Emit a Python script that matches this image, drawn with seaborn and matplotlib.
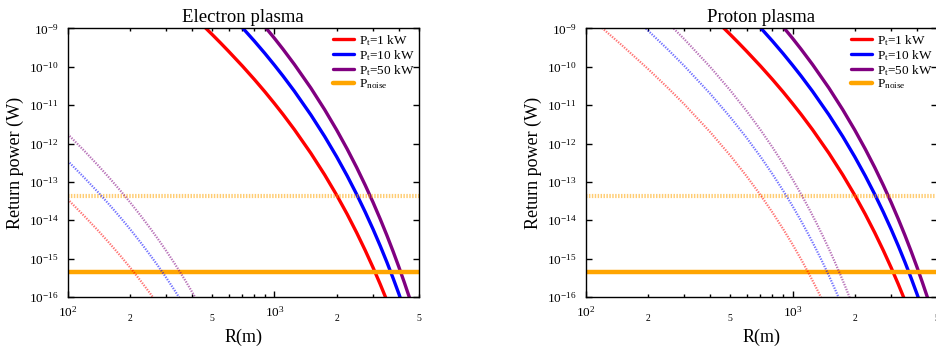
import matplotlib
matplotlib.use("Agg")
import matplotlib.pyplot as plt
import seaborn as sns
from matplotlib.ticker import FixedLocator, FixedFormatter, NullLocator, FuncFormatter

# ---------------- data ----------------
# thick solid curves (identical in both panels)
R_solid_1kW = [400, 450, 500, 550, 600, 700, 800, 900, 1000, 1100, 1250, 1500, 1750, 2000, 2250,
               2500, 2750, 3000, 3250, 3500]
P_solid_1kW = [2.24e-9, 1.22e-9, 6.97e-10, 4.15e-10, 2.55e-10, 1.05e-10, 4.69e-11, 2.23e-11, 1.11e-11,
               5.78e-12, 2.30e-12, 5.61e-13, 1.53e-13, 4.53e-14, 1.43e-14, 4.73e-15, 1.63e-15,
               5.83e-16, 2.14e-16, 8.04e-17]
R_solid_10kW = [600, 700, 800, 900, 1000, 1100, 1250, 1500, 1750, 2000, 2250, 2500, 2750, 3000,
                3250, 3500, 3750, 4000, 4250]
P_solid_10kW = [2.55e-9, 1.05e-9, 4.69e-10, 2.23e-10, 1.11e-10, 5.78e-11, 2.30e-11, 5.61e-12,
                1.53e-12, 4.53e-13, 1.43e-13, 4.73e-14, 1.63e-14, 5.83e-15, 2.14e-15, 8.04e-16,
                3.08e-16, 1.20e-16, 4.76e-17]
R_solid_50kW = [800, 900, 1000, 1100, 1250, 1500, 1750, 2000, 2250, 2500, 2750, 3000, 3250, 3500,
                3750, 4000, 4250, 4500]
P_solid_50kW = [2.34e-9, 1.11e-9, 5.56e-10, 2.89e-10, 1.15e-10, 2.81e-11, 7.64e-12, 2.26e-12,
                7.14e-13, 2.37e-13, 8.17e-14, 2.92e-14, 1.07e-14, 4.02e-15, 1.54e-15, 6.01e-16,
                2.38e-16, 9.57e-17]

# thin dotted curves, electron plasma
R_e_1kW = [100, 120, 140, 160, 180, 200, 225, 250, 275]
P_e_1kW = [3.55e-14, 1.31e-14, 5.46e-15, 2.46e-15, 1.18e-15, 5.96e-16, 2.67e-16, 1.26e-16, 6.22e-17]
R_e_10kW = [100, 120, 140, 160, 180, 200, 225, 250, 275, 300, 325, 350]
P_e_10kW = [3.55e-13, 1.31e-13, 5.46e-14, 2.46e-14, 1.18e-14, 5.96e-15, 2.67e-15, 1.26e-15,
            6.22e-16, 3.16e-16, 1.65e-16, 8.83e-17]
R_e_50kW = [100, 120, 140, 160, 180, 200, 225, 250, 275, 300, 325, 350, 375, 400, 425]
P_e_50kW = [1.77e-12, 6.58e-13, 2.73e-13, 1.23e-13, 5.90e-14, 2.98e-14, 1.34e-14, 6.32e-15,
            3.11e-15, 1.58e-15, 8.26e-16, 4.42e-16, 2.42e-16, 1.34e-16, 7.59e-17]

# thin dotted curves, proton plasma
R_p_1kW = [100, 120, 150, 200, 250, 300, 400, 500, 600, 700, 800, 900, 1000, 1100, 1200, 1300, 1400]
P_p_1kW = [2.37e-9, 1.03e-9, 3.61e-10, 8.85e-11, 2.81e-11, 1.05e-11, 1.99e-12, 4.88e-13, 1.41e-13,
           4.56e-14, 1.60e-14, 5.98e-15, 2.36e-15, 9.64e-16, 4.08e-16, 1.77e-16, 7.91e-17]
R_p_10kW = [150, 200, 250, 300, 400, 500, 600, 700, 800, 900, 1000, 1100, 1200, 1300, 1400, 1500, 1600, 1700]
P_p_10kW = [3.61e-9, 8.85e-10, 2.81e-10, 1.05e-10, 1.99e-11, 4.88e-12, 1.41e-12, 4.56e-13, 1.60e-13,
            5.98e-14, 2.36e-14, 9.64e-15, 4.08e-15, 1.77e-15, 7.91e-16, 3.60e-16, 1.66e-16, 7.82e-17]
R_p_50kW = [250, 300, 400, 500, 600, 700, 800, 900, 1000, 1100, 1200, 1300, 1400, 1500, 1600, 1700, 1800, 1900]
P_p_50kW = [1.40e-9, 5.24e-10, 9.93e-11, 2.44e-11, 7.05e-12, 2.28e-12, 8.00e-13, 2.99e-13, 1.18e-13,
            4.82e-14, 2.04e-14, 8.87e-15, 3.95e-15, 1.80e-15, 8.32e-16, 3.91e-16, 1.87e-16, 8.99e-17]

P_noise = 4.4e-16
P_noise_dotted = 4.4e-14

labels = ["P$_t$=1 kW", "P$_t$=10 kW", "P$_t$=50 kW"]
noise_label = "P$_{noise}$"
titles = ["Electron plasma", "Proton plasma"]
x_major = [100, 1000]
x_major_labels = ["$10^{2}$", "$10^{3}$"]
x_minor = [200, 300, 400, 500, 600, 700, 800, 900, 2000, 3000, 4000, 5000]
x_minor_named = {200: "2", 500: "5", 2000: "2", 5000: "5"}
y_major = [1e-16, 1e-15, 1e-14, 1e-13, 1e-12, 1e-11, 1e-10, 1e-9]
y_major_labels = ["$10^{-16}$", "$10^{-15}$", "$10^{-14}$", "$10^{-13}$",
                  "$10^{-12}$", "$10^{-11}$", "$10^{-10}$", "$10^{-9}$"]

colors = ["#ff0000", "#0000ff", "#800080"]
orange = "#ffa500"

# ---------------- style ----------------
sns.set_theme(style="ticks")
plt.rcParams.update({
    "font.family": ["Liberation Serif", "DejaVu Serif"],
    "mathtext.fontset": "custom",
    "mathtext.rm": "Liberation Serif",
    "mathtext.it": "Liberation Serif:italic",
    "mathtext.default": "regular",
    "axes.edgecolor": "black",
    "axes.linewidth": 1.0,
    "xtick.color": "black",
    "ytick.color": "black",
    "text.color": "black",
    "axes.labelcolor": "black",
})

fig = plt.figure(figsize=(9.36, 3.54), dpi=100)
ax1 = fig.add_axes([0.0723, 0.161, 0.3753, 0.7585])
ax2 = fig.add_axes([0.6258, 0.161, 0.3753, 0.7585])

solid_sets = [(R_solid_1kW, P_solid_1kW), (R_solid_10kW, P_solid_10kW), (R_solid_50kW, P_solid_50kW)]
dotted_sets = {
    0: [(R_e_1kW, P_e_1kW), (R_e_10kW, P_e_10kW), (R_e_50kW, P_e_50kW)],
    1: [(R_p_1kW, P_p_1kW), (R_p_10kW, P_p_10kW), (R_p_50kW, P_p_50kW)],
}

for i, ax in enumerate([ax1, ax2]):
    for (R, P), c, lab in zip(solid_sets, colors, labels):
        sns.lineplot(x=R, y=P, ax=ax, color=c, linewidth=2.4, label=lab, legend=False)
    ax.axhline(P_noise, color=orange, linewidth=3.2, label=noise_label)
    ax.axhline(P_noise_dotted, color=orange, linewidth=3.0, alpha=0.55,
               linestyle=(0, (0.35, 0.35)), label="_nolegend_")
    for (R, P), c in zip(dotted_sets[i], colors):
        sns.lineplot(x=R, y=P, ax=ax, color=c, linewidth=1.6, alpha=0.55,
                     linestyle=(0, (0.6, 0.6)), label="_nolegend_", legend=False)

    ax.set_xscale("log")
    ax.set_yscale("log")
    ax.set_xlim(100, 5000)
    ax.set_ylim(1e-16, 1e-9)

    ax.xaxis.set_major_locator(FixedLocator(x_major))
    ax.xaxis.set_major_formatter(FixedFormatter(x_major_labels))
    ax.xaxis.set_minor_locator(FixedLocator(x_minor))
    ax.xaxis.set_minor_formatter(FuncFormatter(lambda v, pos: x_minor_named.get(int(round(v)), "")))
    ax.yaxis.set_major_locator(FixedLocator(y_major))
    ax.yaxis.set_major_formatter(FixedFormatter(y_major_labels))
    ax.yaxis.set_minor_locator(NullLocator())

    ax.tick_params(which="both", direction="in", top=True, right=True, width=1.0)
    ax.tick_params(axis="y", which="major", length=4.5, labelsize=9.5, pad=6.5)
    ax.tick_params(axis="x", which="major", length=4.5, labelsize=9.5, pad=6)
    ax.tick_params(axis="x", which="minor", length=2.5, labelsize=7, pad=12)

    ax.set_title(titles[i], fontsize=13.5, pad=5)
    ax.set_xlabel("R(m)", fontsize=13)
    ax.set_ylabel("Return power (W)", fontsize=13)
    ax.xaxis.set_label_coords(0.5, -0.118)
    ax.yaxis.set_label_coords(-0.125, 0.5)

    ax.legend(loc="upper right", frameon=False, fontsize=9.5, handlelength=1.6,
              handletextpad=0.35, labelspacing=0.0, borderaxespad=0.1, borderpad=0.25)

fig.savefig("out.png", dpi=100)
